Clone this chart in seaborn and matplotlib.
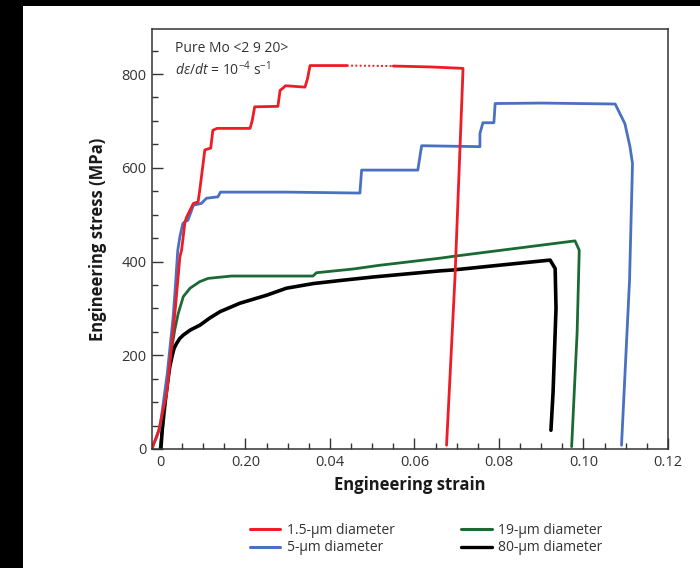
import numpy as np
import pandas as pd
import matplotlib
matplotlib.use("Agg")
import matplotlib.pyplot as plt
from matplotlib.patches import Rectangle
from matplotlib.lines import Line2D
from matplotlib.ticker import MultipleLocator, FixedLocator, FixedFormatter
import seaborn as sns

# ---------------- data ----------------
red_strain = [-0.0021, -0.0005, 0.0014, 0.0029, 0.0036, 0.0045, 0.0049, 0.0057, 0.0061, 0.0077,
              0.0088, 0.0092, 0.0104, 0.0111, 0.0118, 0.0123, 0.0133, 0.0211, 0.0216, 0.0222,
              0.0277, 0.0282, 0.0289, 0.0295, 0.0341, 0.0347, 0.0353, 0.0440]
red_stress = [0, 40, 119, 250, 318, 410, 424, 484, 495, 524,
              527, 552, 638, 640, 642, 680, 684, 684, 700, 730,
              731, 765, 770, 775, 772, 790, 818, 818]
red_dot_strain = [0.0440, 0.0550]
red_dot_stress = [818, 817]
red2_strain = [0.0550, 0.0640, 0.0715, 0.0714, 0.0696, 0.0676]
red2_stress = [817, 815, 812, 787, 367, 8]

blue_strain = [-0.0022, -0.0010, -0.0002, 0.0015, 0.0029, 0.0033, 0.0040, 0.0045, 0.0052, 0.0057,
               0.0064, 0.0077, 0.0096, 0.0108, 0.0135, 0.0141, 0.0300, 0.0471, 0.0475, 0.0608,
               0.0617, 0.0755, 0.0755, 0.0762, 0.0788, 0.0791, 0.0900, 0.1075, 0.1098, 0.1110,
               0.1116, 0.1109, 0.1090]
blue_stress = [2, 25, 47, 160, 281, 330, 424, 453, 481, 485,
               488, 520, 524, 535, 538, 548, 548, 546, 595, 595,
               647, 645, 673, 696, 696, 737, 738, 736, 694, 645,
               609, 360, 8]

green_strain = [-0.0002, 0.0008, 0.0018, 0.0025, 0.0033, 0.0041, 0.0053, 0.0069, 0.0092, 0.0112,
                0.0167, 0.0360, 0.0368, 0.0455, 0.0518, 0.0660, 0.0692, 0.0779, 0.0980, 0.0990,
                0.0985, 0.0972]
green_stress = [2, 70, 160, 211, 255, 289, 325, 343, 357, 364,
                369, 369, 376, 384, 392, 407, 411, 421, 444, 424,
                250, 5]

black_strain = [0.0000, 0.0006, 0.0014, 0.0021, 0.0027, 0.0031, 0.0037, 0.0045, 0.0053, 0.0070,
                0.0092, 0.0115, 0.0140, 0.0187, 0.0250, 0.0297, 0.0361, 0.0430, 0.0503, 0.0660,
                0.0692, 0.0800, 0.0921, 0.0933, 0.0935, 0.0928, 0.0923]
black_stress = [0, 76, 130, 175, 200, 214, 225, 236, 243, 254,
                264, 279, 293, 311, 328, 343, 353, 360, 367, 380,
                382, 392, 403, 385, 300, 120, 40]

labels = ["1.5-\u00b5m diameter", "5-\u00b5m diameter", "19-\u00b5m diameter", "80-\u00b5m diameter"]
colors = ["#ee1c25", "#4a70c0", "#1b6a34", "#000000"]

xtick_vals = [0, 0.02, 0.04, 0.06, 0.08, 0.10, 0.12]
xtick_labels = ["0", "0.20", "0.04", "0.06", "0.08", "0.10", "0.12"]
ytick_vals = [0, 200, 400, 600, 800]
ytick_labels = ["0", "200", "400", "600", "800"]

# ---------------- style ----------------
sns.set_style("white")
plt.rcParams["font.family"] = ["Open Sans", "DejaVu Sans"]
plt.rcParams["mathtext.fontset"] = "custom"
plt.rcParams["mathtext.rm"] = "Open Sans"
plt.rcParams["mathtext.it"] = "Open Sans:italic"
plt.rcParams["mathtext.bf"] = "Open Sans:bold"
plt.rcParams["xtick.direction"] = "in"
plt.rcParams["ytick.direction"] = "in"
plt.rcParams["xtick.bottom"] = True
plt.rcParams["ytick.left"] = True
plt.rcParams["xtick.minor.visible"] = True
plt.rcParams["ytick.minor.visible"] = True

fig = plt.figure(figsize=(7.0, 5.68), dpi=100)
fig.patch.set_facecolor("white")
fig.patches.append(Rectangle((0, 0), 23 / 700, 1, transform=fig.transFigure,
                             facecolor="black", edgecolor="none", zorder=0))
fig.patches.append(Rectangle((0, 1 - 6 / 568), 1, 6 / 568, transform=fig.transFigure,
                             facecolor="black", edgecolor="none", zorder=0))

ax = fig.add_axes([152 / 700, 1 - 449 / 568, (668 - 152) / 700, (449 - 29) / 568])

def draw(xs, ys, color, lw, ls="-", z=2):
    df = pd.DataFrame({"strain": xs, "stress": ys})
    sns.lineplot(data=df, x="strain", y="stress", sort=False, estimator=None,
                 color=color, linewidth=lw, linestyle=ls, ax=ax, zorder=z)

draw(green_strain, green_stress, colors[2], 2.0)
draw(black_strain, black_stress, colors[3], 2.6)
draw(blue_strain, blue_stress, colors[1], 2.0)
draw(red_strain, red_stress, colors[0], 2.0)
draw(red_dot_strain, red_dot_stress, colors[0], 1.4, ls=(0, (1, 1.2)))
draw(red2_strain, red2_stress, colors[0], 2.0)

ax.set_xlim(-0.0021, 0.12)
ax.set_ylim(0, 896)

ax.xaxis.set_major_locator(FixedLocator(xtick_vals))
ax.xaxis.set_major_formatter(FixedFormatter(xtick_labels))
ax.xaxis.set_minor_locator(MultipleLocator(0.005))
ax.yaxis.set_major_locator(FixedLocator(ytick_vals))
ax.yaxis.set_major_formatter(FixedFormatter(ytick_labels))
ax.yaxis.set_minor_locator(MultipleLocator(50))

spine_c = "#333333"
for s in ax.spines.values():
    s.set_color(spine_c)
    s.set_linewidth(1.1)
ax.tick_params(axis="both", which="major", direction="in", length=8, width=1.0, color=spine_c,
               labelsize=10.5, labelcolor="#333333", pad=4,
               bottom=True, left=True, top=False, right=False)
ax.tick_params(axis="both", which="minor", direction="in", length=4, width=1.0, color=spine_c,
               bottom=True, left=True, top=False, right=False)

ax.set_xlabel("Engineering strain", fontsize=12, fontweight="bold", color="#1a1a1a", labelpad=5)
ax.set_ylabel("Engineering stress (MPa)", fontsize=12, fontweight="bold", color="#1a1a1a", labelpad=10)

fig.text(175 / 700, 1 - 48 / 568, "Pure Mo <2 9 20>",
         fontsize=10, color="#333333", va="center", ha="left")
fig.text(175 / 700, 1 - 70 / 568, r"$d\varepsilon/dt$ = 10$^{-4}$ s$^{-1}$",
         fontsize=10, color="#333333", va="center", ha="left")

handles = [Line2D([], [], color=c, linewidth=2.2 if c != "#000000" else 2.4) for c in colors]
fig.legend(handles, labels, ncol=2, loc="center", bbox_to_anchor=(426 / 700, 1 - 539 / 568),
           frameon=False, fontsize=10, handlelength=2.2, handletextpad=0.45,
           columnspacing=4.8, labelspacing=0.2, labelcolor="#333333")

fig.savefig("out.png", dpi=100, facecolor=fig.get_facecolor())
